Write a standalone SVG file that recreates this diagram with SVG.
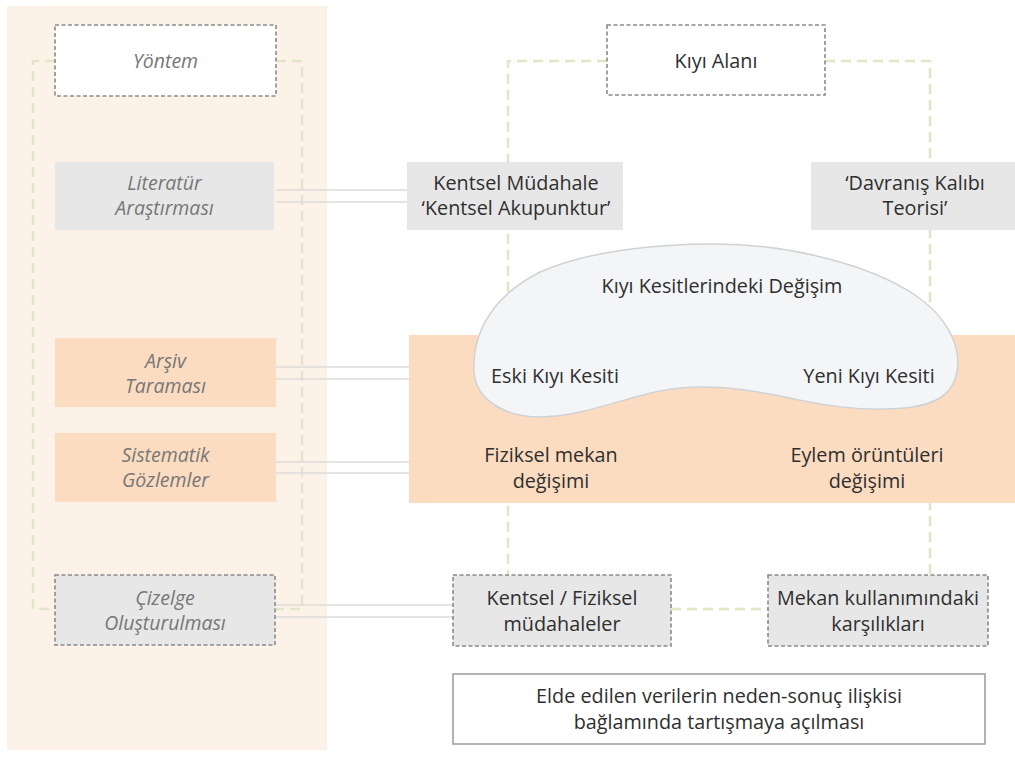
<svg xmlns="http://www.w3.org/2000/svg" width="1015" height="758" viewBox="0 0 1015 758">
<style>
  .t { font-family: "Open Sans", "Liberation Sans", sans-serif; font-size: 19.8px; fill: #2f2f2f; text-anchor: middle; }
  .ti { font-family: "Open Sans", "Liberation Sans", sans-serif; font-size: 19.5px; fill: #777777; font-style: italic; text-anchor: middle; }
  .dashbox { stroke: #8a8a8a; stroke-width: 1.6; stroke-dasharray: 4 2.5; }
  .gray { fill: #e7e7e7; }
  .peach { fill: #fcdcc1; }
  .green { fill: none; stroke: #dfe7c8; stroke-width: 2.6; stroke-dasharray: 10 6; }
  .link { stroke: #dcdcdc; stroke-width: 1.4; fill: none; }
</style>
<rect x="0" y="0" width="1015" height="758" fill="#ffffff"/>
<rect id="method-panel" x="7" y="6" width="320" height="744" fill="#fdf2e8"/>

<g id="connectors">
  <path class="green" d="M55,61 H33 V609 H55"/>
  <path class="green" d="M276,61 H302 V609 H275"/>
  <path class="green" d="M607,61 H508 V575"/>
  <path class="green" d="M825,61 H930 V575"/>
  <path class="green" d="M671,609 H768"/>
  <path class="link" d="M276,190 H407 M276,202 H407"/>
  <path class="link" d="M276,367 H409 M276,379 H409"/>
  <path class="link" d="M276,462 H409 M276,473 H409"/>
  <path class="link" d="M276,605 H453 M276,617 H453"/>
</g>

<g id="yontem">
  <rect class="dashbox" x="55" y="25" width="221" height="71" fill="#ffffff"/>
  <text class="ti" x="165.5" y="67.5">Yöntem</text>
</g>
<g id="literatur">
  <rect class="gray" x="55" y="162" width="219" height="68"/>
  <text class="ti" x="164.5" y="189.5">Literatür</text>
  <text class="ti" x="164.5" y="214.5">Araştırması</text>
</g>
<g id="arsiv">
  <rect class="peach" x="55" y="338" width="221" height="69"/>
  <text class="ti" x="165.5" y="367.5">Arşiv</text>
  <text class="ti" x="165.5" y="392.5">Taraması</text>
</g>
<g id="sistematik">
  <rect class="peach" x="55" y="433" width="221" height="69"/>
  <text class="ti" x="165.5" y="461.5">Sistematik</text>
  <text class="ti" x="165.5" y="486.5">Gözlemler</text>
</g>
<g id="cizelge">
  <rect class="dashbox gray" x="55" y="575" width="220" height="70"/>
  <text class="ti" x="165" y="604.5">Çizelge</text>
  <text class="ti" x="165" y="629.5">Oluşturulması</text>
</g>

<g id="kiyi-alani">
  <rect class="dashbox" x="607" y="25" width="218" height="70" fill="#ffffff"/>
  <text class="t" x="716" y="67.5">Kıyı Alanı</text>
</g>
<g id="kentsel-mudahale">
  <rect class="gray" x="407" y="162" width="216" height="68"/>
  <text class="t" x="516" y="189.5">Kentsel Müdahale</text>
  <text class="t" x="516" y="214.5">‘Kentsel Akupunktur’</text>
</g>
<g id="davranis">
  <rect class="gray" x="811" y="162" width="212" height="68"/>
  <text class="t" x="915" y="189.5">‘Davranış Kalıbı</text>
  <text class="t" x="915" y="214.5">Teorisi’</text>
</g>

<g id="degisim-band">
  <rect class="peach" x="409" y="335" width="606" height="168"/>
  <text class="t" x="551" y="461.5">Fiziksel mekan</text>
  <text class="t" x="551" y="487.5">değişimi</text>
  <text class="t" x="867" y="461.5">Eylem örüntüleri</text>
  <text class="t" x="867" y="487.5">değişimi</text>
</g>
<g id="kiyi-kesitleri">
  <path d="M474,372 C472,330 495,295 540,272 C590,250 660,244 714,244 C790,244 870,265 915,295 C945,315 962,345 957,372 C953,395 935,405 905,408 C860,412 820,405 780,396 C740,388 700,383 660,391 C620,399 580,417 540,417 C505,417 476,400 474,372 Z" fill="#f3f5f7" stroke="#cfd2d5" stroke-width="1.5"/>
  <text class="t" x="722" y="292.5">Kıyı Kesitlerindeki Değişim</text>
  <text class="t" x="555" y="382.5">Eski Kıyı Kesiti</text>
  <text class="t" x="869" y="382.5">Yeni Kıyı Kesiti</text>
</g>

<g id="kentsel-fiziksel">
  <rect class="dashbox gray" x="453" y="575" width="218" height="71"/>
  <text class="t" x="562" y="604.5">Kentsel / Fiziksel</text>
  <text class="t" x="562" y="631">müdahaleler</text>
</g>
<g id="mekan">
  <rect class="dashbox gray" x="768" y="575" width="220" height="71"/>
  <text class="t" x="878" y="604.5">Mekan kullanımındaki</text>
  <text class="t" x="878" y="630.5">karşılıkları</text>
</g>
<g id="elde">
  <rect x="453" y="674" width="532" height="70" fill="#ffffff" stroke="#9a9a9a" stroke-width="1.5"/>
  <text class="t" x="719" y="702.5">Elde edilen verilerin neden-sonuç ilişkisi</text>
  <text class="t" x="719" y="728.5">bağlamında tartışmaya açılması</text>
</g>
</svg>
